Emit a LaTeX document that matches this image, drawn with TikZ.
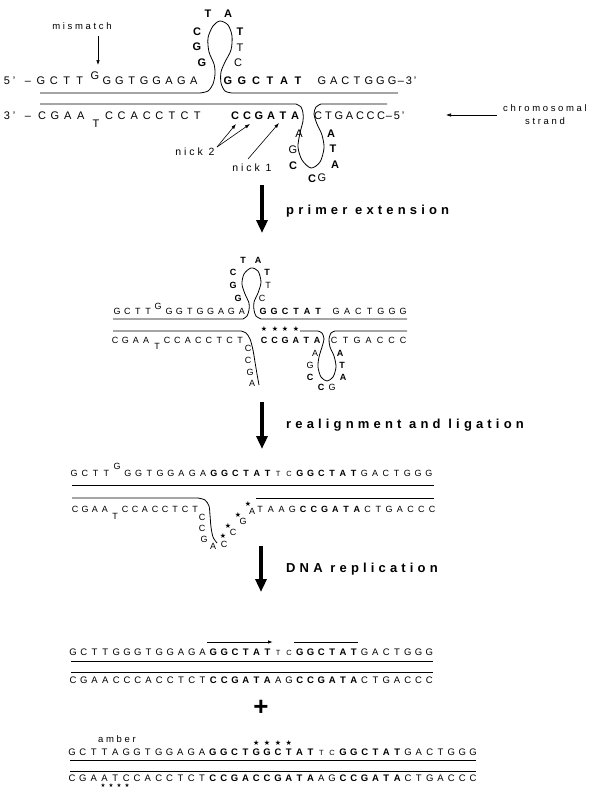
\documentclass[tikz,border=0pt]{standalone}
\usepackage{fontspec}
\setmainfont{Liberation Sans}
\newfontfamily\lblfont[LetterSpace=28]{Liberation Sans}
\newfontfamily\steplblfont[LetterSpace=32]{Liberation Sans}
\newfontfamily\symfont{DejaVu Sans}
\usetikzlibrary{arrows.meta}
\newcommand\B[1]{\textbf{#1}}
\newcommand\sm[1]{{\fontsize{7.5}{9}\selectfont #1}}
% a run of bases set at a fixed pitch: name, x0, baseline, pitch, style, list
\newcommand\bases[6]{\foreach \ch [count=\k from 0] in {#6}{\node[nt,#5] (#1-\k) at ({#2+\k*#4},#3) {\ch};}}
\tikzset{
 nt/.style={anchor=base,inner sep=0pt},
 s1/.style={font=\fontsize{11}{13}\selectfont},
 s2/.style={font=\fontsize{9}{11}\selectfont},
 s4/.style={font=\fontsize{9.5}{11}\selectfont},
 strandline/.style={line width=0.8pt},
 bigarrow/.style={line width=4.5pt,-{Triangle[width=11pt,length=13pt]}},
 pointer/.style={line width=0.6pt,-{Latex[length=5pt,width=3.5pt]}},
 steplabel/.style={anchor=base west,inner sep=0pt,font=\steplblfont\bfseries\fontsize{13}{15}\selectfont},
 note/.style={inner sep=0pt,font=\lblfont\fontsize{9.5}{11}\selectfont},
 starmark/.style={inner sep=0pt,font=\symfont\fontsize{7}{8}\selectfont},
}
\begin{document}
\begin{tikzpicture}[x=1pt,y=-1pt]
\fill[white] (0,0) rectangle (597,788);
\useasboundingbox (0,0) rectangle (597,788);

%% ---------- heteroduplex with two hairpins ----------
\node[nt,s1] (e5a) at (7,84) {5};
\node[nt,s1] (e5b) at (14,84) {’};
\node[nt,s1] (e5c) at (28,84) {–};
\bases{a}{41}{84}{12.9}{s1}{G,C,T,T}
\node[nt,s1] (a-sup) at (95,79) {G};
\bases{b}{107}{84}{12.4}{s1}{G,G,T,G,G,A,G,A}
\bases{c}{228}{84}{14}{s1}{\B G,\B G,\B C,\B T,\B A,\B T}
\bases{d}{322}{84}{11.7}{s1}{G,A,C,T,G,G,G}
\node[nt,s1] (e3a) at (401,84) {–};
\node[nt,s1] (e3b) at (409,84) {3};
\node[nt,s1] (e3c) at (415,84) {’};

\node[nt,s1] (f3a) at (7,119) {3};
\node[nt,s1] (f3b) at (14,119) {’};
\node[nt,s1] (f3c) at (28,119) {–};
\bases{e}{42}{119}{12.9}{s1}{C,G,A,A}
\node[nt,s1] (e-sub) at (96,127) {T};
\bases{f}{109}{119}{12.6}{s1}{C,C,A,C,C,T,C,T}
\bases{g}{235}{119}{12}{s1}{\B C,\B C,\B G,\B A,\B T,\B A}
\bases{h}{318}{119}{10.5}{s1}{C,T,G,A,C,C,C}
\node[nt,s1] (f5a) at (389,119) {–};
\node[nt,s1] (f5b) at (397,119) {5};
\node[nt,s1] (f5c) at (403,119) {’};

% hairpin of the upper strand
\node[nt,s1] (hp1) at (208,17) {\B T};
\node[nt,s1] (hp2) at (228,17) {\B A};
\node[nt,s1] (hp3) at (197,35) {\B C};
\node[nt,s1] (hp4) at (197,50) {\B G};
\node[nt,s1] (hp5) at (202,66) {\B G};
\node[nt,s1] (hp6) at (240,35) {\B T};
\node[nt,s1] (hp7) at (240,51) {T};
\node[nt,s1] (hp8) at (238,66) {C};
% hairpin of the lower strand
\node[nt,s1] (hq1) at (299,137) {A};
\node[nt,s1] (hq2) at (293,153) {G};
\node[nt,s1] (hq3) at (293,169) {\B C};
\node[nt,s1] (hq4) at (312,182) {\B C};
\node[nt,s1] (hq5) at (322,181) {G};
\node[nt,s1] (hq6) at (331,137) {\B A};
\node[nt,s1] (hq7) at (333,152) {\B T};
\node[nt,s1] (hq8) at (335,168) {\B A};

\draw[strandline] (40,93) -- (200,93) -- plot[smooth] coordinates {(200,93) (208,91) (213,84) (215,74) (214,64) (209,52) (208,38) (213,26) (220,21) (228,25) (232,36) (231,50) (225,62) (221,72) (221,83) (225,91) (232,93)} -- (398,93);
\draw[strandline] (40,104) -- (296,104) -- plot[smooth] coordinates {(296,104) (301,107) (303,113) (303,121) (300,133) (298,147) (302,160) (311,168) (320,162) (324,148) (322,135) (317,124) (314,114) (316,107) (321,104)} -- (387,104);

% labels and pointers
\node[note] (mm) at (82,26) {mismatch};
\coordinate (mms) at (98,36);
\coordinate (mmt) at (98,65);
\draw[pointer] (mms) -- (mmt);

\node[note,font=\lblfont\fontsize{10.5}{12}\selectfont] (nk2) at (195,152) {nick 2};
\node[note,font=\lblfont\fontsize{10.5}{12}\selectfont] (nk1) at (252,168) {nick 1};
\coordinate (nk2s) at (217,147);
\coordinate (nk2a) at (236,124);
\coordinate (nk2b) at (250,124);
\coordinate (nk1s) at (248,159);
\coordinate (nk1a) at (279,123);
\draw[pointer] (nk2s) -- (nk2a);
\draw[pointer] (nk2s) -- (nk2b);
\draw[pointer] (nk1s) -- (nk1a);

\node[note] (chr) at (545,108) {chromosomal};
\node[note] (chs) at (545,121) {strand};
\coordinate (chra) at (497,115);
\coordinate (chrb) at (446,115);
\draw[pointer] (chra) -- (chrb);

\coordinate (ar1s) at (262,185);
\coordinate (ar1e) at (262,233);
\draw[bigarrow] (ar1s) -- (ar1e);
\node[steplabel] (st1) at (286,214) {primer extension};

%% ---------- after primer extension ----------
\bases{p}{117}{314}{10.4}{s2}{G,C,T,T}
\node[nt,s2] (p-sup) at (158,309) {G};
\bases{q}{169}{314}{10.4}{s2}{G,G,T,G,G,A,G,A}
\bases{r}{263}{314}{11}{s2}{\B G,\B G,\B C,\B T,\B A,\B T}
\bases{s}{336}{314}{11.2}{s2}{G,A,C,T,G,G,G}

\bases{u}{115}{343}{10.4}{s2}{C,G,A,A}
\node[nt,s2] (u-sub) at (157,349) {T};
\bases{v}{167}{343}{10.45}{s2}{C,C,A,C,C,T,C,T}
\node[nt,s2] (hz1) at (248,351) {C};
\node[nt,s2] (hz2) at (248,363) {C};
\node[nt,s2] (hz3) at (250,375) {G};
\node[nt,s2] (hz4) at (252,386) {A};
\bases{w}{264}{343}{10.6}{s2}{\B C,\B C,\B G,\B A,\B T,\B A}
\bases{x}{334}{343}{11.5}{s2}{C,T,G,A,C,C,C}
\foreach \sx [count=\j] in {264,275,285,296} {\node[starmark] (sa\j) at (\sx,329) {★};}

\node[nt,s2] (hr1) at (243,263) {\B T};
\node[nt,s2] (hr2) at (258,263) {\B A};
\node[nt,s2] (hr3) at (233,275) {\B C};
\node[nt,s2] (hr4) at (233,288) {\B G};
\node[nt,s2] (hr5) at (238,301) {\B G};
\node[nt,s2] (hr6) at (267,275) {\B T};
\node[nt,s2] (hr7) at (268,288) {T};
\node[nt,s2] (hr8) at (262,301) {C};

\node[nt,s2] (hs1) at (315,356) {A};
\node[nt,s2] (hs2) at (310,368) {G};
\node[nt,s2] (hs3) at (310,380) {\B C};
\node[nt,s2] (hs4) at (321,390) {\B C};
\node[nt,s2] (hs5) at (332,390) {G};
\node[nt,s2] (hs6) at (340,356) {\B A};
\node[nt,s2] (hs7) at (342,368) {\B T};
\node[nt,s2] (hs8) at (343,380) {\B A};

\draw[strandline] (113,319) -- (243,319) -- plot[smooth] coordinates {(243,319) (247,316) (249,310) (249,303) (245,294) (242,284) (244,274) (251,268) (258,271) (261,282) (258,293) (254,302) (254,310) (256,316) (261,319)} -- (407,319);
\draw[strandline] (113,331) -- (241,331) -- plot[smooth] coordinates {(241,331) (246,333) (250,339) (253,350) (255,362) (257,374) (259,385)};
\draw[strandline] (300,331) -- (318,331) -- plot[smooth] coordinates {(318,331) (322,333) (324,339) (322,347) (319,357) (318,367) (321,377) (327,381) (333,377) (336,367) (334,356) (330,347) (329,339) (331,333) (335,331)} -- (407,331);

\coordinate (ar2s) at (262,402);
\coordinate (ar2e) at (262,449);
\draw[bigarrow] (ar2s) -- (ar2e);
\node[steplabel] (st2) at (286,428) {realignment and ligation};

%% ---------- after realignment and ligation ----------
\bases{t3}{74}{476}{10.75}{s2}{G,C,T,T,{},G,G,T,G,G,A,G,A,\B G,\B G,\B C,\B T,\B A,\B T,\sm T,\sm C,\B G,\B G,\B C,\B T,\B A,\B T,G,A,C,T,G,G,G}
\node[nt,s2] (t3-sup) at (117,469) {G};
\bases{b3}{75}{512}{10}{s2}{C,G,A,A,{},C,C,A,C,C,T,C,T}
\node[nt,s2] (b3-sub) at (115,519) {T};
\node[nt,s2] (hl1) at (202,520) {C};
\node[nt,s2] (hl2) at (202,531) {C};
\node[nt,s2] (hl3) at (204,542) {G};
\node[nt,s2] (hl4) at (213,549) {A};
\node[nt,s2] (hl5) at (224,547) {C};
\node[nt,s2] (hl6) at (233,535) {C};
\node[nt,s2] (hl7) at (243,524) {G};
\node[nt,s2] (hl8) at (252,514) {A};
\node[starmark] (sb1) at (223,536) {★};
\node[starmark] (sb2) at (228,526) {★};
\node[starmark] (sb3) at (238,515) {★};
\node[starmark] (sb4) at (248,504) {★};
\bases{c3}{260}{512}{10.75}{s2}{T,A,A,G,\B C,\B C,\B G,\B A,\B T,\B A,C,T,G,A,C,C,C}

\draw[strandline] (72,485) -- (434,485);
\draw[strandline] (72,498) -- (198,498) -- plot[smooth] coordinates {(198,498) (205,500) (209,506) (210,515) (211,527) (213,537) (217,543)};
\draw[strandline] (256,498) -- (434,498);

\coordinate (ar3s) at (261,546);
\coordinate (ar3e) at (261,592);
\draw[bigarrow] (ar3s) -- (ar3e);
\node[steplabel] (st3) at (286,572) {DNA replication};

%% ---------- the two replication products ----------
\bases{ra}{73}{655.5}{10.8}{s4}{G,C,T,T,G,G,G,T,G,G,A,G,A,\B G,\B G,\B C,\B T,\B A,\B T,\sm T,\sm C,\B G,\B G,\B C,\B T,\B A,\B T,G,A,C,T,G,G,G}
\bases{rb}{73}{683.5}{10.8}{s4}{C,G,A,A,C,C,C,A,C,C,T,C,T,\B C,\B C,\B G,\B A,\B T,\B A,A,G,\B C,\B C,\B G,\B A,\B T,\B A,C,T,G,A,C,C,C}
\draw[strandline] (71,661) -- (433,661);
\draw[strandline] (71,672) -- (433,672);
\coordinate (rp1s) at (207,642);
\coordinate (rp1e) at (273,642);
\coordinate (rp2s) at (294,642);
\coordinate (rp2e) at (358,642);
\draw[line width=0.9pt,-{Latex[length=5pt,width=3.5pt]}] (rp1s) -- (rp1e);
\draw[line width=0.9pt] (rp2s) -- (rp2e);

\node[font=\bfseries\fontsize{26}{26}\selectfont,inner sep=0pt] (plus) at (261,708) {+};

\node[note] (amb) at (117,739) {amber};
\bases{rc}{72}{755.5}{10.84}{s4}{G,C,T,T,A,G,G,T,G,G,A,G,A,\B G,\B G,\B C,\B T,\B G,\B G,\B C,\B T,\B A,\B T,\sm T,\sm C,\B G,\B G,\B C,\B T,\B A,\B T,G,A,C,T,G,G,G}
\bases{rd}{72}{781}{10.84}{s4}{C,G,A,A,T,C,C,A,C,C,T,C,T,\B C,\B C,\B G,\B A,\B C,\B C,\B G,\B A,\B T,\B A,A,G,\B C,\B C,\B G,\B A,\B T,\B A,C,T,G,A,C,C,C}
\foreach \sx [count=\j] in {103,111,119,127} {\node[starmark,font=\symfont\fontsize{5.5}{6}\selectfont] (sd\j) at (\sx,785.5) {★};}
\foreach \sx [count=\j] in {256.3,267.1,278,288.8} {\node[starmark] (sc\j) at (\sx,743) {★};}
\draw[strandline] (70,760) -- (476,760);
\draw[strandline] (70,771) -- (476,771);
\end{tikzpicture}
\end{document}
